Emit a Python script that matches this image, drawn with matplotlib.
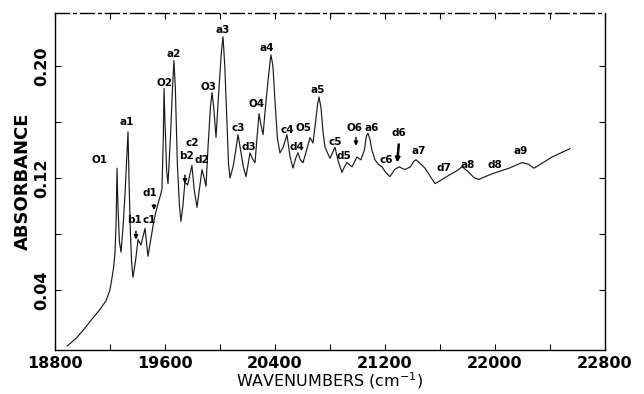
import matplotlib
matplotlib.use('Agg')
import matplotlib.pyplot as plt

# spectrum (wavenumber cm-1, absorbance)
wn = [18890, 18950, 19004, 19060, 19127, 19170, 19200, 19225, 19236, 19245,
      19251, 19258, 19268, 19280, 19295, 19310, 19322, 19331, 19338, 19347,
      19357, 19367, 19385, 19404, 19425, 19440, 19455, 19476, 19495, 19520,
      19545, 19565, 19578, 19588, 19593, 19600, 19612, 19622, 19640, 19655,
      19665, 19675, 19690, 19705, 19716, 19730, 19745, 19765, 19780, 19796,
      19812, 19833, 19850, 19869, 19885, 19898, 19913, 19930, 19942, 19955,
      19971, 19990, 20010, 20022, 20035, 20050, 20062, 20073, 20095, 20115,
      20131, 20150, 20170, 20189, 20205, 20218, 20235, 20255, 20270, 20284,
      20298, 20313, 20330, 20350, 20365, 20371, 20385, 20400, 20418, 20436,
      20460, 20487, 20510, 20531, 20550, 20567, 20585, 20604, 20630, 20655,
      20676, 20695, 20710, 20720, 20735, 20750, 20764, 20800, 20836, 20860,
      20887, 20905, 20924, 20960, 20996, 21025, 21050, 21065, 21076, 21090,
      21105, 21127, 21150, 21178, 21205, 21236, 21270, 21302, 21345, 21385,
      21410, 21425, 21450, 21491, 21530, 21564, 21600, 21665, 21720, 21760,
      21800, 21850, 21884, 21930, 21978, 22040, 22102, 22150, 22196, 22240,
      22284, 22350, 22415, 22480, 22545]
absb = [0.000, 0.005, 0.011, 0.018, 0.026, 0.032, 0.040, 0.055, 0.066, 0.090,
        0.127, 0.100, 0.075, 0.067, 0.085, 0.110, 0.135, 0.153, 0.120, 0.085,
        0.060, 0.049, 0.060, 0.076, 0.072, 0.078, 0.084, 0.064, 0.075, 0.090,
        0.100, 0.107, 0.112, 0.150, 0.184, 0.160, 0.125, 0.116, 0.150, 0.185,
        0.204, 0.185, 0.130, 0.100, 0.089, 0.100, 0.117, 0.115, 0.122, 0.129,
        0.112, 0.099, 0.112, 0.126, 0.120, 0.114, 0.142, 0.170, 0.181, 0.170,
        0.149, 0.180, 0.210, 0.221, 0.200, 0.160, 0.130, 0.120, 0.128, 0.140,
        0.151, 0.140, 0.128, 0.121, 0.130, 0.138, 0.134, 0.131, 0.150, 0.166,
        0.158, 0.151, 0.170, 0.190, 0.204, 0.208, 0.200, 0.175, 0.148, 0.138,
        0.142, 0.151, 0.135, 0.127, 0.134, 0.138, 0.133, 0.131, 0.140, 0.149,
        0.145, 0.160, 0.173, 0.178, 0.170, 0.152, 0.142, 0.134, 0.142, 0.132,
        0.124, 0.128, 0.131, 0.128, 0.135, 0.133, 0.140, 0.150, 0.152, 0.148,
        0.140, 0.133, 0.130, 0.128, 0.124, 0.121, 0.126, 0.128, 0.126, 0.128,
        0.132, 0.133, 0.131, 0.127, 0.121, 0.116, 0.118, 0.122, 0.125, 0.128,
        0.125, 0.120, 0.119, 0.121, 0.123, 0.125, 0.127, 0.129, 0.131, 0.130,
        0.127, 0.131, 0.135, 0.138, 0.141]

# band labels and where they sit
lbl_txt = ["O1", "a1", "b1", "c1", "d1", "O2", "a2", "c2", "b2", "d2",
           "O3", "a3", "c3", "d3", "O4", "a4", "c4", "d4", "O5", "a5",
           "c5", "d5", "O6", "a6", "c6", "d6", "a7", "d7", "a8", "d8", "a9"]
lbl_x = [19127, 19324, 19378, 19482, 19491, 19593, 19665, 19796, 19760, 19869,
         19920, 20022, 20131, 20211, 20269, 20342, 20487, 20560, 20611, 20713,
         20836, 20902, 20975, 21105, 21207, 21302, 21447, 21629, 21804, 22000, 22189]
lbl_y = [0.133, 0.160, 0.090, 0.090, 0.109, 0.188, 0.209, 0.145, 0.136, 0.133,
         0.185, 0.226, 0.156, 0.142, 0.173, 0.213, 0.154, 0.142, 0.156, 0.183,
         0.146, 0.136, 0.156, 0.156, 0.133, 0.152, 0.139, 0.127, 0.129, 0.129, 0.139]

# arrows (tail -> head)
arr_x0 = [19389, 19520, 19745, 20989, 21302]
arr_y0 = [0.084, 0.103, 0.124, 0.151, 0.146]
arr_x1 = [19389, 19520, 19745, 20989, 21287]
arr_y1 = [0.074, 0.095, 0.114, 0.141, 0.129]

fig = plt.figure(figsize=(6.44, 3.94), dpi=100)
ax = fig.add_axes([0.0854, 0.1117, 0.854, 0.8553])

ax.plot(wn, absb, color="#1a1a1a", lw=0.85)

for t, x, y in zip(lbl_txt, lbl_x, lbl_y):
    ax.text(x, y, t, ha="center", va="center", fontsize=7.5, fontweight="bold")

for i in range(len(arr_x0)):
    w = 1.8 if i == 4 else 1.0
    ax.annotate("", xy=(arr_x1[i], arr_y1[i]), xytext=(arr_x0[i], arr_y0[i]),
                arrowprops=dict(arrowstyle="-|>", lw=w, color="black",
                                mutation_scale=6))

ax.set_xlim(18800, 22800)
ax.set_ylim(-0.003, 0.238)
ax.set_xticks(range(18800, 22801, 400))
ax.set_xticklabels([str(v) if (v - 18800) % 800 == 0 else "" for v in range(18800, 22801, 400)],
                   fontsize=11.5, fontweight="bold")
yt = [0.04, 0.08, 0.12, 0.16, 0.20]
ax.set_yticks(yt)
ax.set_yticklabels(["0.04", "", "0.12", "", "0.20"], fontsize=11.5,
                   fontweight="bold", rotation=90, va="center")
ax.tick_params(direction="in", top=True, right=True, length=4, width=0.8, pad=4)
ax.set_xlabel("WAVENUMBERS (cm$^{-1}$)", fontsize=11.5, labelpad=0)
ax.set_ylabel("ABSORBANCE", fontsize=13, fontweight="bold", labelpad=2)

for s in ax.spines.values():
    s.set_linewidth(1.0)
ax.spines["top"].set_linestyle((0, (10, 3, 2, 3)))

fig.savefig("out.png", dpi=100)
